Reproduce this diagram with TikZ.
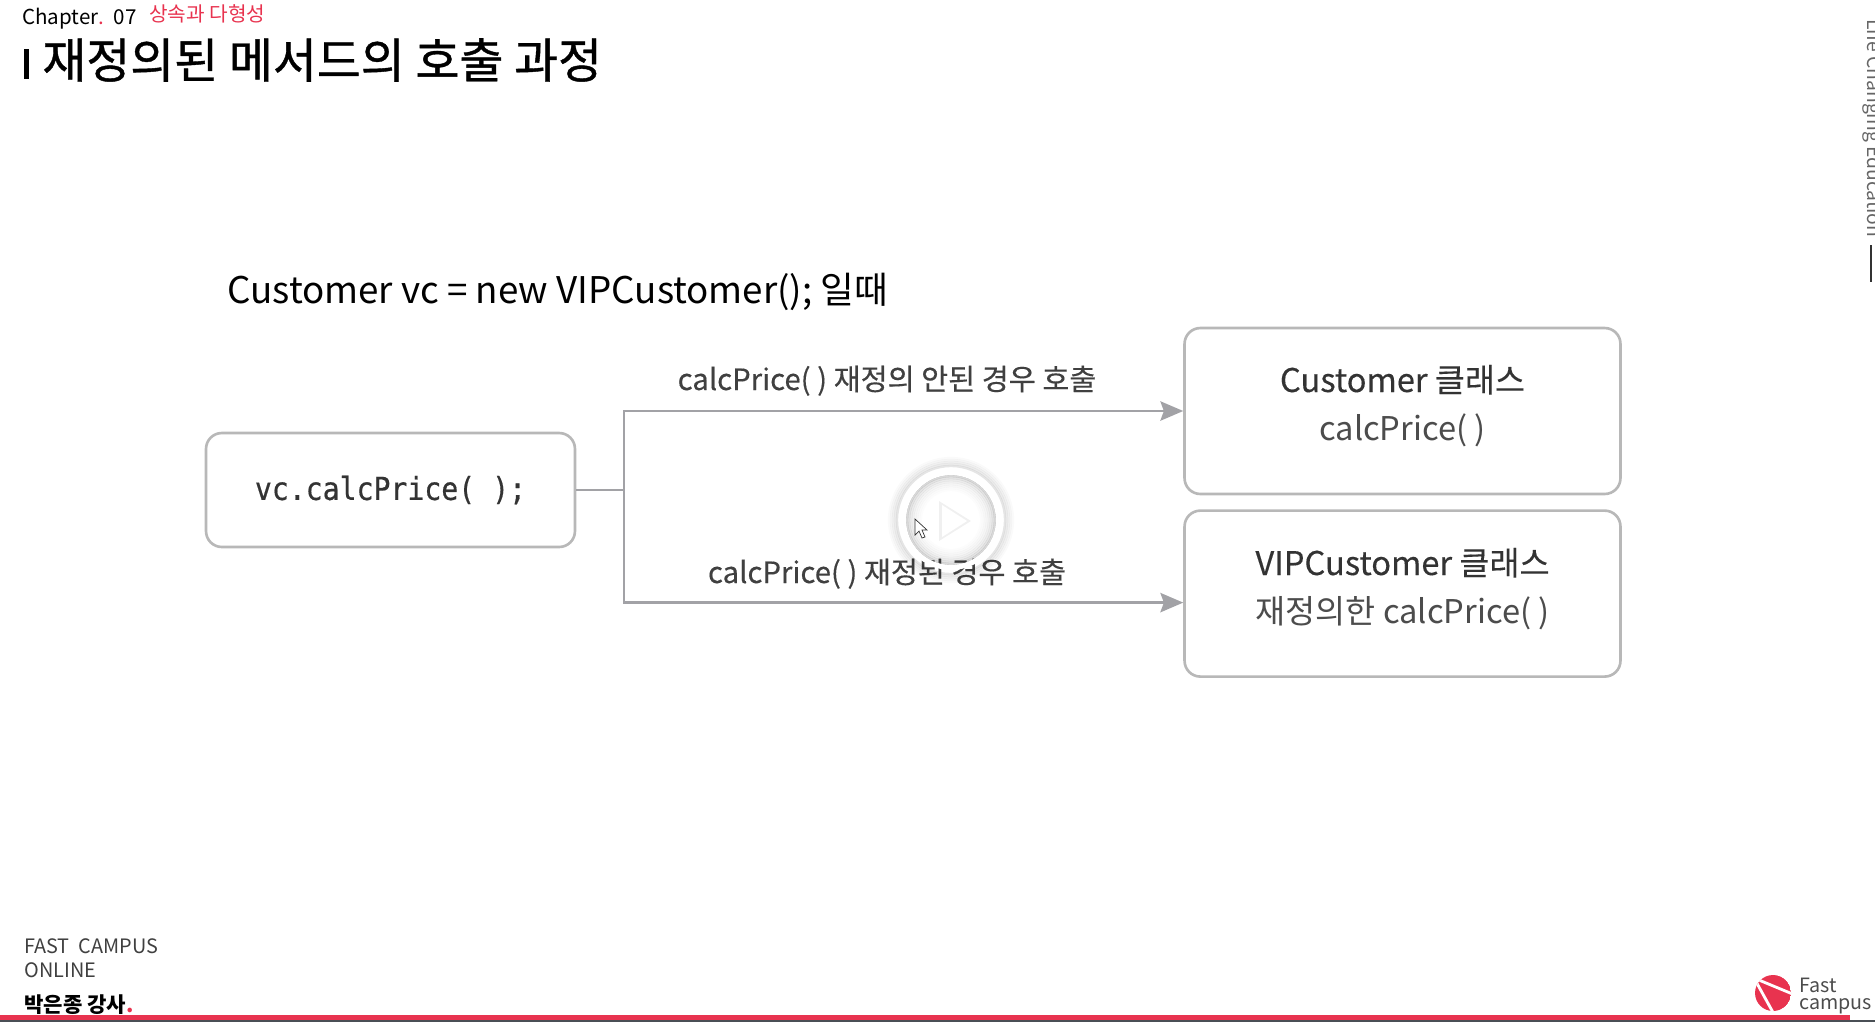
\documentclass[tikz,border=0pt]{standalone}
\usepackage{fontspec}
\setmainfont{Noto Sans CJK KR}
\setmonofont[FakeStretch=0.89,FakeBold=0.5]{DejaVu Sans Mono}
\usepackage{xcolor}
\usetikzlibrary{arrows.meta,positioning}
\definecolor{fcred}{HTML}{E8334F}
\definecolor{fcdark}{HTML}{4A4F55}
\definecolor{linegray}{HTML}{A2A2A6}
\newcommand{\pxfont}[1]{\fontsize{#1}{#1}\selectfont}
\newcommand{\medfont}[1]{\addfontfeature{FakeBold=#1}}

\begin{document}
\begin{tikzpicture}[
  x=0.02cm, y=-0.02cm,
  box/.style={draw=black!28, rectangle, rounded corners=9pt, line width=1.5pt,
              fill=white, text=black!80, minimum width=8.72cm,
              align=center, inner sep=0pt},
  arr/.style={-{Stealth[length=13pt,width=11pt,inset=2pt]}, line width=1.4pt, draw=linegray},
  elabel/.style={text=black!75, font=\pxfont{16.7}\medfont{0.3}, inner sep=0pt, anchor=base},
  plain/.style={inner sep=0pt, anchor=base west},
  node distance=0.28cm
]
\useasboundingbox (0,0) rectangle (1875,1022);
\clip (0,0) rectangle (1875,1022);

\node[plain, font=\pxfont{11.7}] (chapter) at (22,24) {Chapter{\color{fcred}.}\ \ 07};
\node[plain, font=\pxfont{11.5}, text=fcred] (part) at (149,21) {상속과 다형성};
\node[plain, font=\pxfont{27.2}\medfont{0.8}] (title) at (42,78) {재정의된 메서드의 호출 과정};
\fill[black] (24,49) rectangle (29,79);

\node[plain, font=\pxfont{20.9}] (given) at (227,303) {Customer vc = new VIPCustomer(); 일때};

\node[box, minimum height=3.32cm] (custbox) at (1402.5,411) {};
\node[box, minimum height=3.32cm, below=of custbox] (vipbox) {};
\node[box, minimum width=7.38cm, minimum height=2.28cm,
      font=\pxfont{18}\ttfamily] (callbox) at (390.5,490) {vc.calcPrice( );};

\node[font=\pxfont{18.6}\medfont{0.3}, text=black!80, anchor=base] (custname) at (1402.5,392) {Customer 클래스};
\node[font=\pxfont{18.6}, text=black!70, anchor=base] (custcalc) at (1402.5,440) {calcPrice( )};
\node[font=\pxfont{18.6}\medfont{0.3}, text=black!80, anchor=base] (vipname) at (1402.5,575) {VIPCustomer 클래스};
\node[font=\pxfont{18.6}, text=black!70, anchor=base] (vipcalc) at (1402.5,623) {재정의한 calcPrice( )};

\coordinate (split) at (624,490);
\draw[line width=1.4pt, draw=linegray] (callbox) -- (split);
\draw[arr] (split) |- (custbox);
\draw[arr] (split) |- ([yshift=-0.18cm]vipbox.west);

\node[elabel] (labelA) at (887,390) {calcPrice( ) 재정의 안된 경우 호출};
\node[elabel] (labelB) at (887,583) {calcPrice( ) 재정된 경우 호출};

% play button
\foreach \r/\o in {62/0.02,60/0.04,58/0.06,56/0.08,54/0.10}
  \draw[black, opacity=\o, line width=1.3pt] (951,520) circle (\r);
\foreach \r/\o in {46/0.20,44/0.15,42/0.11,40/0.08,38/0.06,36/0.04,34/0.03,32/0.02,30/0.01}
  \draw[black, opacity=\o, line width=1.3pt] (951,520) circle (\r);
\draw[white, line width=2.9pt] (951,520) circle (47.5);
\fill[black, opacity=0.06] (939,501) -- (971,521) -- (939,541) -- cycle;
\fill[white] (942,505) -- (967,521) -- (942,537) -- cycle;
\draw[black!80, fill=white, line width=0.4pt] (915,519) -- (915,535) -- (919,531) -- (922,538)
  -- (925,537) -- (922,530) -- (927,530) -- cycle;

\node[plain, font=\pxfont{11.3}, text=black!75] (academy) at (24,953) {FAST\ \ CAMPUS};
\node[plain, font=\pxfont{11.3}, text=black!75] (online) at (24,977) {ONLINE};
\node[plain, font=\pxfont{12}\bfseries] (teacher) at (24,1012) {박은종 강사{\color{fcred}.}};

\node[plain, rotate=-90, font=\pxfont{11}, text=black!60] (motto) at (1867,19) {Life Changing Education};
\draw[black!80, line width=0.7pt] (1871,245) -- (1871,282);

% logo
\begin{scope}
  \clip (1773,993) circle (18);
  \fill[fcred] (1773,993) circle (18);
  \draw[white, line width=1.6pt] (1754,978) -- (1795,995);
  \draw[white, line width=1.6pt] (1754,978) -- (1775,1016);
\end{scope}
\node[plain, font=\pxfont{11.2}, text=black!70] (logoA) at (1799,992) {Fast};
\node[plain, font=\pxfont{11.2}, text=black!70] (logoB) at (1799,1009) {campus};

\fill[fcred] (0,1015) rectangle (1850,1020);
\fill[fcdark] (0,1020) rectangle (1875,1022);
\end{tikzpicture}
\end{document}
